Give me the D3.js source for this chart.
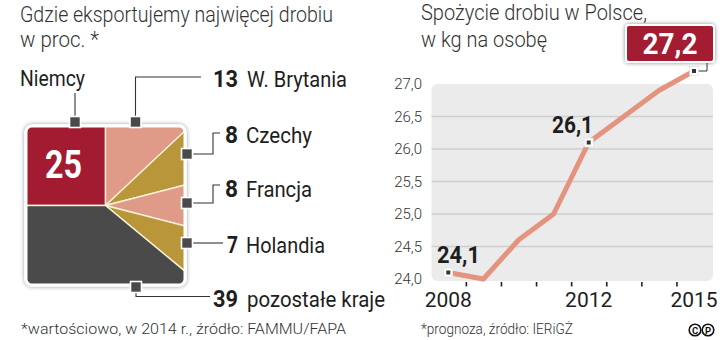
<!DOCTYPE html>
<html><head><meta charset="utf-8">
<script src="https://cdn.jsdelivr.net/npm/d3@7"></script>
<style>
html,body{margin:0;padding:0;background:#fff;}
svg{display:block;font-family:Roboto,"Open Sans",sans-serif;}
</style></head>
<body><svg id="c" width="720" height="340"></svg>
<script>
// ---------- data ----------
const categories = ["Niemcy","W. Brytania","Czechy","Francja","Holandia","pozostałe kraje"];
const shares = [25,13,8,8,7,39];
const years = [2008,2009,2010,2011,2012,2013,2014,2015];
const consumption = [24.1,24.0,24.6,25.0,26.1,26.5,26.9,27.2];
const yTickValues = [24.0,24.5,25.0,25.5,26.0,26.5,27.0];
const xLabelYears = [2008,2012,2015];
const labelledYears = [2008,2012,2015];

// ---------- styles / layout ----------
const RED="#a31b30", SALMON="#e09a88", GOLD="#b9963a", GREY="#4a4a4a", LINE="#e3937e", INK="#1e1e1e";
const sliceColors = [RED,SALMON,GOLD,SALMON,GOLD,GREY];
const svg = d3.select("#c");
const defs = svg.append("defs");
const f = defs.append("filter").attr("id","sh").attr("x","-20%").attr("y","-20%").attr("width","140%").attr("height","140%");
f.append("feDropShadow").attr("dx",0).attr("dy",0).attr("stdDeviation",2.2).attr("flood-color","#000").attr("flood-opacity",0.45);

function txt(g,x,y,s,o){
  const t=g.append("text").attr("x",x).attr("y",y).text(s)
    .attr("font-size",o.size).attr("font-weight",o.weight||400).attr("fill",o.fill||INK);
  if(o.len) t.attr("textLength",o.len).attr("lengthAdjust","spacingAndGlyphs");
  if(o.anchor) t.attr("text-anchor",o.anchor);
  return t;
}

// ---------- titles ----------
txt(svg,20,21.5,"Gdzie eksportujemy najwięcej drobiu",{size:22,weight:300,fill:"#333",len:313});
txt(svg,20,46.5,"w proc. *",{size:22,weight:300,fill:"#333",len:79});
txt(svg,421,20,"Spożycie drobiu w Polsce,",{size:22,weight:300,fill:"#333",len:226});
txt(svg,421,46.5,"w kg na osobę",{size:22,weight:300,fill:"#333",len:126});

// ---------- pie in rounded square ----------
const sq = {x:26,y:126,w:159,h:159,r:6};
const cx = sq.x+sq.w/2, cy = sq.y+sq.h/2;
const pieG = svg.append("g");
pieG.append("rect").attr("x",sq.x-1.5).attr("y",sq.y-1.5).attr("width",sq.w+3).attr("height",sq.h+3)
  .attr("rx",sq.r+1.5).attr("fill","#fff").attr("filter","url(#sh)");
defs.append("clipPath").attr("id","sqclip").append("rect")
  .attr("x",sq.x).attr("y",sq.y).attr("width",sq.w).attr("height",sq.h).attr("rx",sq.r);
const pie = d3.pie().sort(null).startAngle(-Math.PI/2).endAngle(1.5*Math.PI);
const arcs = pie(shares);
const arc = d3.arc().innerRadius(0).outerRadius(200);
pieG.append("g").attr("clip-path","url(#sqclip)")
  .append("g").attr("transform",`translate(${cx},${cy})`)
  .selectAll("path").data(arcs).join("path")
  .attr("d",arc).attr("fill",(d,i)=>sliceColors[i])
  .attr("stroke","#f7f0d8").attr("stroke-width",1.4);
pieG.append("rect").attr("x",sq.x).attr("y",sq.y).attr("width",sq.w).attr("height",sq.h)
  .attr("rx",sq.r).attr("fill","none").attr("stroke","#fff").attr("stroke-width",3);

// big value in first slice
txt(svg,63.5,178,String(shares[0]),{size:38,weight:700,fill:"#fff",anchor:"middle",len:37});

// callouts (annotation layout)
const callouts = [
  {m:[75,122], path:[[75,116],[75,93]], name:[20,86], nameLen:65, noNum:true},
  {m:[135.5,122], path:[[135.5,116],[135.5,77],[201,77]], num:[213,87], numLen:25, name:[247,87], nameLen:100},
  {m:[187,154], path:[[193,154],[213,154],[213,133],[220,133]], num:[225,143], numLen:13, name:[246,143], nameLen:66},
  {m:[187,203], path:[[193,203],[213,203],[213,185],[220,185]], num:[225,197], numLen:13, name:[246,197], nameLen:66},
  {m:[187,243], path:[[193,243],[223,243]], num:[227,253], numLen:11, name:[246,253], nameLen:79},
  {m:[136,287], path:[[136,293],[136,296.5],[210,296.5]], num:[213,307], numLen:25, name:[247,307], nameLen:138}
];
const cg = svg.append("g");
callouts.forEach((c,i)=>{
  cg.append("path").attr("d",d3.line()(c.path)).attr("fill","none").attr("stroke","#333").attr("stroke-width",1.1);
  cg.append("rect").attr("x",c.m[0]-5.5).attr("y",c.m[1]-5.5).attr("width",11).attr("height",11)
    .attr("fill",GREY).attr("stroke","#fff").attr("stroke-width",1.6);
  if(!c.noNum) txt(cg,c.num[0],c.num[1],String(shares[i]),{size:24,weight:700,len:c.numLen});
  txt(cg,c.name[0],c.name[1],categories[i],{size:22,weight:400,len:c.nameLen});
});

// ---------- line chart ----------
const x = d3.scaleLinear().domain([2008,2015]).range([448.3,694]);
const y = d3.scaleLinear().domain([24,27]).range([279,84]);
const fmt = v => d3.format(".1f")(v).replace(".",",");
const lc = svg.append("g");
lc.append("rect").attr("x",431.5).attr("y",y(27)).attr("width",281.5).attr("height",y(24)-y(27)+2)
  .attr("rx",6).attr("fill","#ebebeb");
lc.selectAll("line.grid").data(yTickValues.filter(v=>v>24&&v<27)).join("line")
  .attr("x1",431.5).attr("x2",713).attr("y1",d=>y(d)).attr("y2",d=>y(d))
  .attr("stroke","#cfcfcf").attr("stroke-width",1.5);
// y axis labels
const yAxis = d3.axisLeft(y).tickValues(yTickValues).tickFormat(fmt).tickSize(0).tickPadding(0);
const ya = lc.append("g").attr("transform","translate(422,0)").call(yAxis);
ya.select(".domain").remove();
ya.selectAll("text").attr("font-size",15).attr("font-weight",300).attr("fill","#333")
  .attr("font-family","Roboto,sans-serif");
// x axis ticks + labels
const xAxis = d3.axisBottom(x).tickValues(years.slice(0,-1).map(v=>v+0.5)).tickFormat("").tickSize(4.5).tickSizeOuter(0);
const xa = lc.append("g").attr("transform","translate(0,282)").call(xAxis);
xa.select(".domain").remove();
xa.selectAll("line").attr("stroke","#222").attr("stroke-width",1.6);
lc.selectAll("text.yr").data(xLabelYears).join("text").attr("class","yr")
  .attr("x",d=>x(d)).attr("y",307).attr("text-anchor","middle").attr("font-size",21).attr("font-weight",400)
  .attr("fill",INK).text(d=>d);
// line
const pts = years.map((yr,i)=>({yr,v:consumption[i]}));
lc.append("path").datum(pts).attr("fill","none").attr("stroke",LINE).attr("stroke-width",5)
  .attr("stroke-linejoin","round")
  .attr("d",d3.line().x(d=>x(d.yr)).y(d=>y(d.v)));
const hl = pts.filter(d=>labelledYears.includes(d.yr));
// connector for last value box
const last = pts[pts.length-1];
lc.append("path").attr("d",d3.line()([[x(last.yr)+4,y(last.v)],[707,y(last.v)],[707,61]]))
  .attr("fill","none").attr("stroke","#333").attr("stroke-width",1);
lc.selectAll("rect.pm").data(hl).join("rect").attr("class","pm")
  .attr("x",d=>x(d.yr)-4.5).attr("y",d=>y(d.v)-4.5).attr("width",9).attr("height",9)
  .attr("fill","#fff").attr("stroke","#ddd").attr("stroke-width",0.6);
lc.selectAll("rect.pc").data(hl).join("rect").attr("class","pc")
  .attr("x",d=>x(d.yr)-2).attr("y",d=>y(d.v)-2).attr("width",4).attr("height",4).attr("fill","#333");
// value labels
txt(lc,437,263,fmt(hl[0].v),{size:23,weight:700,len:43});
txt(lc,552,133,fmt(hl[1].v),{size:23,weight:700,len:41});
// box for last value
lc.append("rect").attr("x",626).attr("y",25).attr("width",88).attr("height",37).attr("rx",3)
  .attr("fill",RED).attr("stroke","#fff").attr("stroke-width",2).attr("filter","url(#sh)");
txt(lc,670,53.5,fmt(last.v),{size:30,weight:700,fill:"#fff",anchor:"middle",len:55});

// ---------- footnotes ----------
txt(svg,21,334,"*wartościowo, w 2014 r., źródło: FAMMU/FAPA",{size:14.5,weight:300,fill:"#333",len:325});
txt(svg,421,334,"*prognoza, źródło: IERiGŻ",{size:14.5,weight:300,fill:"#333",len:152});
// copyright marks
[["C",695],["P",708]].forEach(([ch,px])=>{
  svg.append("circle").attr("cx",px).attr("cy",330).attr("r",5.8).attr("fill","none").attr("stroke","#111").attr("stroke-width",1.6);
  svg.append("text").attr("x",px).attr("y",333.5).attr("text-anchor","middle").attr("font-size",9.5)
    .attr("font-weight",700).attr("fill","#111").text(ch);
});
</script></body></html>
